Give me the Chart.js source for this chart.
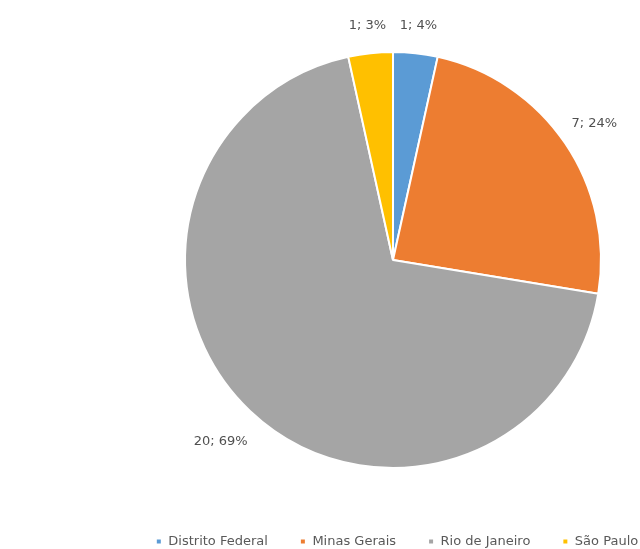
<!DOCTYPE html>
<html>
<head>
<meta charset="utf-8">
<script src="https://cdn.jsdelivr.net/npm/chart.js@4"></script>
<style>
  html, body { margin: 0; padding: 0; background: #fff; }
  #wrap { width: 640px; height: 549px; }
</style>
</head>
<body>
<div id="wrap"><canvas id="pieChart"></canvas></div>
<script>
// Dados do gráfico
const estados = ['Distrito Federal', 'Minas Gerais', 'Rio de Janeiro', 'São Paulo'];
const quantidades = [1, 7, 20, 1];
const rotulos = ['1; 4%', '7; 24%', '20; 69%', '1; 3%'];
const cores = ['#5B9BD5', '#ED7D31', '#A5A5A5', '#FFC000'];

const fonte = '"DejaVu Sans", "Liberation Sans", Arial, sans-serif';

// Rótulos fora da fatia, estilo Excel
const rotulosFora = {
    id: 'rotulosFora',
    afterDatasetsDraw(chart) {
        const ctx = chart.ctx;
        const meta = chart.getDatasetMeta(0);
        ctx.save();
        ctx.font = '13px ' + fonte;
        ctx.fillStyle = '#505050';
        ctx.textAlign = 'center';
        ctx.textBaseline = 'middle';
        meta.data.forEach((arc, i) => {
            const ang = (arc.startAngle + arc.endAngle) / 2;
            // rótulo mais largo fica mais afastado da borda
            const larg = ctx.measureText(rotulos[i]).width;
            const dist = arc.outerRadius - 6 + 0.9 * larg;
            const x = arc.x + Math.cos(ang) * dist;
            const y = arc.y + Math.sin(ang) * dist;
            ctx.fillText(rotulos[i], x, y);
        });
        ctx.restore();
    }
};

const ctx = document.getElementById('pieChart').getContext('2d');
new Chart(ctx, {
    type: 'pie',
    data: {
        labels: estados,
        datasets: [{
            data: quantidades,
            backgroundColor: cores,
            borderColor: '#ffffff',
            borderWidth: 2,
            radius: 208
        }]
    },
    options: {
        responsive: true,
        maintainAspectRatio: false,
        animation: false,
        layout: { padding: { top: 17, left: 110, right: -44, bottom: -9 } },
        plugins: {
            tooltip: { enabled: false },
            // título vazio à esquerda só para deslocar a pizza
            title: {
                display: true,
                position: 'left',
                text: '',
                font: { size: 10 },
                padding: { top: 24, bottom: 0 }
            },
            legend: {
                position: 'bottom',
                labels: {
                    boxWidth: 6,
                    boxHeight: 6,
                    padding: 32,
                    color: '#595959',
                    font: { family: fonte, size: 13 }
                }
            }
        }
    },
    plugins: [rotulosFora]
});
</script>
</body>
</html>
